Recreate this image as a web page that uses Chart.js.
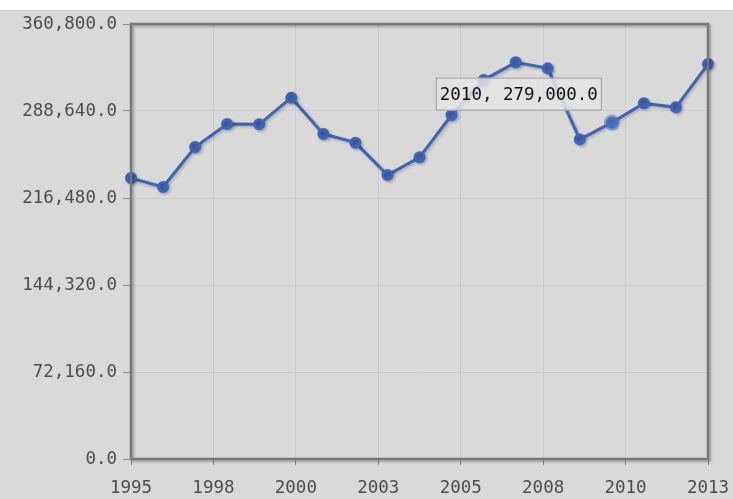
<!DOCTYPE html>
<html>
<head>
<meta charset="utf-8">
<script src="https://cdn.jsdelivr.net/npm/chart.js@4.4.0/dist/chart.umd.min.js"></script>
<style>
    html, body { margin: 0; padding: 0; background: #ffffff; }
    #chart { display: block; }
</style>
</head>
<body>
<canvas id="chart" width="733" height="499"></canvas>
<script>
// Yearly values
const years = [1995, 1996, 1997, 1998, 1999, 2000, 2001, 2002, 2003, 2004,
               2005, 2006, 2007, 2008, 2009, 2010, 2011, 2012, 2013];
const values = [233000, 225600, 258800, 277900, 277600, 299700, 269600, 262400, 235500, 250200,
                285300, 314300, 329000, 324000, 265100, 279000, 295000, 291700, 327600];

// Axis ticks
const yTickValues = [0, 72160, 144320, 216480, 288640, 360800];
const xTickLabels = ['1995', '1998', '2000', '2003', '2005', '2008', '2010', '2013'];
const xMin = 1995;
const xMax = 2013;

// Point shown with the hover box
const highlightIndex = 15;

const lineColor = '#3f63b5';
const monoFont = '"DejaVu Sans Mono", "Liberation Mono", monospace';

function fmt(v) {
    return v.toLocaleString('en-US', { minimumFractionDigits: 1, maximumFractionDigits: 1 });
}

// background, plot frame, shadow on the line, highlight + tooltip box
const decorPlugin = {
    id: 'decor',
    beforeDraw(chart) {
        const ctx = chart.ctx;
        ctx.save();
        ctx.fillStyle = '#ffffff';
        ctx.fillRect(0, 0, chart.width, chart.height);
        ctx.fillStyle = '#d9d9d9';
        ctx.fillRect(0, 10, chart.width, chart.height - 10);
        ctx.restore();
    },
    afterDraw(chart) {
        const ctx = chart.ctx;
        const a = chart.chartArea;
        ctx.save();
        ctx.shadowColor = 'rgba(0,0,0,0.25)';
        ctx.shadowOffsetX = 2;
        ctx.shadowOffsetY = 2;
        ctx.shadowBlur = 2;
        ctx.strokeStyle = '#777777';
        ctx.lineWidth = 2.5;
        ctx.strokeRect(a.left, a.top, a.right - a.left, a.bottom - a.top);
        ctx.restore();
    },
    beforeDatasetDraw(chart) {
        const ctx = chart.ctx;
        ctx.save();
        ctx.shadowColor = 'rgba(0,0,0,0.22)';
        ctx.shadowOffsetX = 1.5;
        ctx.shadowOffsetY = 1.5;
        ctx.shadowBlur = 3;
    },
    afterDatasetDraw(chart) {
        chart.ctx.restore();
    },
    afterDatasetsDraw(chart) {
        const ctx = chart.ctx;
        const pt = chart.getDatasetMeta(0).data[highlightIndex];
        ctx.save();
        // highlighter halo
        ctx.fillStyle = 'rgba(80,120,200,0.55)';
        ctx.beginPath();
        ctx.arc(pt.x, pt.y, 8, 0, Math.PI * 2);
        ctx.fill();

        // tooltip box (north-west of the point)
        const text = years[highlightIndex] + ', ' + fmt(values[highlightIndex]);
        ctx.font = '17.5px ' + monoFont;
        const w = ctx.measureText(text).width + 8;
        const h = 33;
        const right = pt.x - 10;
        const bottom = pt.y - 12;
        ctx.fillStyle = 'rgba(228,228,228,0.85)';
        ctx.fillRect(right - w, bottom - h, w, h);
        ctx.strokeStyle = '#9a9a9a';
        ctx.lineWidth = 1;
        ctx.strokeRect(right - w + 0.5, bottom - h + 0.5, w - 1, h - 1);
        ctx.fillStyle = '#111111';
        ctx.textBaseline = 'middle';
        ctx.textAlign = 'left';
        ctx.fillText(text, right - w + 4, bottom - h / 2 + 1);
        ctx.restore();
    }
};

const ctx = document.getElementById('chart').getContext('2d');
new Chart(ctx, {
    type: 'line',
    data: {
        datasets: [{
            data: years.map((y, i) => ({ x: y, y: values[i] })),
            borderColor: lineColor,
            backgroundColor: lineColor,
            pointBackgroundColor: lineColor,
            pointBorderColor: lineColor,
            borderWidth: 3,
            pointRadius: 4.5,
            tension: 0,
            fill: false,
            clip: false
        }]
    },
    options: {
        responsive: false,
        animation: false,
        devicePixelRatio: 1,
        events: [],
        layout: {
            padding: { top: 24, right: 25, left: 0, bottom: 0 }
        },
        plugins: {
            legend: { display: false },
            tooltip: { enabled: false }
        },
        scales: {
            x: {
                type: 'linear',
                min: xMin,
                max: xMax,
                afterBuildTicks(scale) {
                    const n = xTickLabels.length;
                    scale.ticks = xTickLabels.map((l, i) => ({ value: xMin + i * (xMax - xMin) / (n - 1) }));
                },
                afterFit(scale) {
                    scale.height = 40;
                    scale.paddingLeft = 0;
                    scale.paddingRight = 0;
                },
                ticks: {
                    autoSkip: false,
                    maxRotation: 0,
                    padding: 13,
                    color: '#4c4c4c',
                    font: { family: monoFont, size: 17.5 },
                    callback: (v, i) => xTickLabels[i]
                },
                grid: {
                    color: '#cbcbcb',
                    tickColor: '#8a8a8a',
                    tickLength: 6,
                    lineWidth: 1
                },
                border: { display: false }
            },
            y: {
                min: 0,
                max: 360800,
                afterBuildTicks(scale) {
                    scale.ticks = yTickValues.map(v => ({ value: v }));
                },
                afterFit(scale) {
                    scale.width = 131;
                },
                ticks: {
                    padding: 6,
                    color: '#4c4c4c',
                    font: { family: monoFont, size: 17.5 },
                    callback: v => fmt(v)
                },
                grid: {
                    color: '#cbcbcb',
                    tickColor: '#8a8a8a',
                    tickLength: 8,
                    lineWidth: 1
                },
                border: { display: false }
            }
        }
    },
    plugins: [decorPlugin]
});
</script>
</body>
</html>
